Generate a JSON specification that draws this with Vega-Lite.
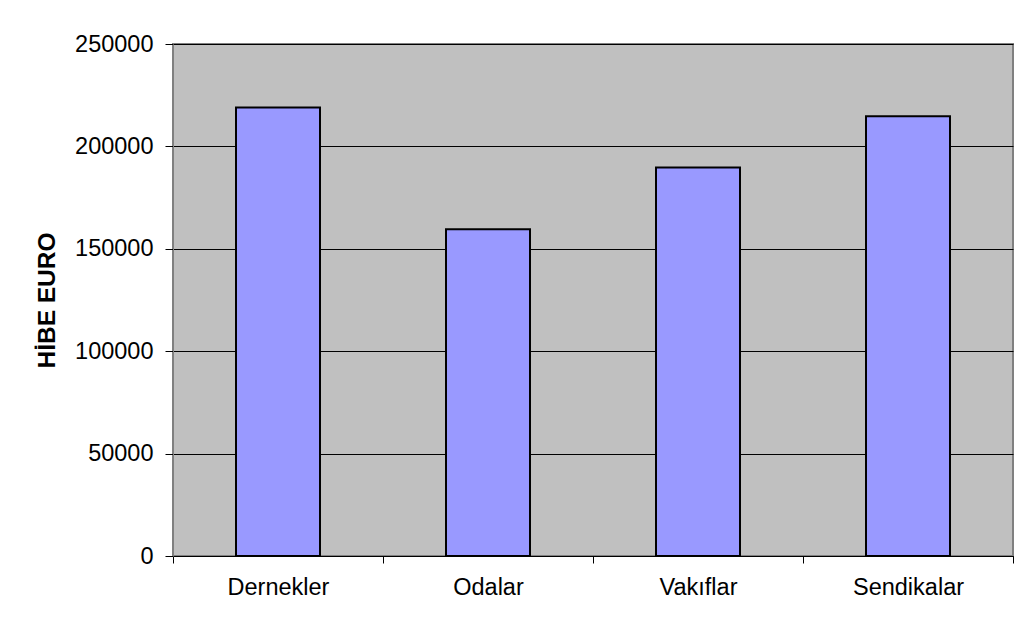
{
  "$schema": "https://vega.github.io/schema/vega-lite/v6.json",
  "autosize": {"type": "none"},
  "width": 840,
  "height": 512,
  "padding": {"left": 173, "top": 44, "right": 5, "bottom": 75},
  "background": "white",
  "data": {
    "values": [
      {"kategori": "Dernekler", "hibe": 219000},
      {"kategori": "Odalar", "hibe": 159600},
      {"kategori": "Vakıflar", "hibe": 189700},
      {"kategori": "Sendikalar", "hibe": 214700}
    ]
  },
  "mark": {"type": "bar", "fill": "#9999FF", "stroke": "#000000", "strokeWidth": 2, "width": {"band": 0.4}},
  "encoding": {
    "x": {
      "field": "kategori",
      "type": "nominal",
      "sort": null,
      "scale": {"paddingInner": 0, "paddingOuter": 0},
      "axis": {
        "title": null,
        "labelAngle": 0,
        "labelFont": "Liberation Sans",
        "labelFontSize": 23.5,
        "labelColor": "#000000",
        "labelPadding": 12,
        "tickBand": "extent",
        "tickSize": 7,
        "tickColor": "#000000",
        "domainColor": "#000000",
        "grid": false
      }
    },
    "y": {
      "field": "hibe",
      "type": "quantitative",
      "scale": {"domain": [0, 250000], "nice": false},
      "axis": {
        "title": "HİBE EURO",
        "titleFont": "Liberation Sans",
        "titleFontSize": 24.5,
        "titleFontWeight": "bold",
        "titleColor": "#000000",
        "titlePadding": 15,
        "values": [0, 50000, 100000, 150000, 200000, 250000],
        "format": "d",
        "labelFont": "Liberation Sans",
        "labelFontSize": 23.5,
        "labelColor": "#000000",
        "labelPadding": 12,
        "tickSize": 8,
        "tickColor": "#000000",
        "domainColor": "#808080",
        "grid": true,
        "gridColor": "#000000",
        "gridOpacity": 1,
        "gridWidth": 1
      }
    }
  },
  "config": {
    "view": {"fill": "#C0C0C0", "stroke": "#808080", "strokeWidth": 2}
  }
}
